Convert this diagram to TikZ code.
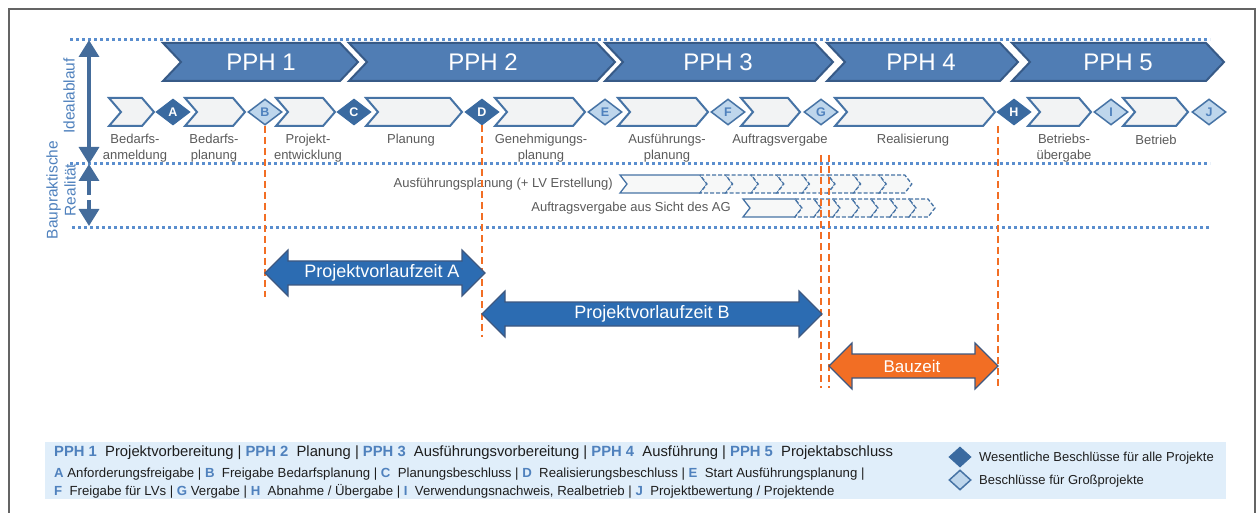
\documentclass[tikz,border=0pt]{standalone}
\usepackage{fontspec}
\setmainfont{Liberation Sans}
\usetikzlibrary{arrows.meta, positioning, shapes.geometric, calc}

\definecolor{pphfill}{RGB}{80,125,180}
\definecolor{pphline}{RGB}{55,90,135}
\definecolor{stepfill}{RGB}{242,243,244}
\definecolor{stepline}{RGB}{70,115,165}
\definecolor{diadark}{RGB}{58,106,160}
\definecolor{dialight}{RGB}{190,214,236}
\definecolor{dotblue}{RGB}{90,142,206}
\definecolor{axisblue}{RGB}{68,108,155}
\definecolor{sideblue}{RGB}{79,129,189}
\definecolor{labelgray}{RGB}{90,90,90}
\definecolor{cutorange}{RGB}{242,110,36}
\definecolor{spanblue}{RGB}{44,108,178}
\definecolor{spanline}{RGB}{62,88,128}
\definecolor{legfill}{RGB}{224,238,250}
\definecolor{legdark}{RGB}{30,30,30}
\definecolor{framegray}{RGB}{100,100,100}

% chevron: style, left x, tip x, mid y, half height, tip depth
\newcommand{\chevbox}[6]{\draw[#1] (#2,#4-#5) -- (#3-#6,#4-#5) -- (#3,#4) -- (#3-#6,#4+#5) -- (#2,#4+#5) -- (#2+#6,#4) -- cycle;}
% double block arrow between two named coordinates
\newcommand{\spanarrow}[3]{\draw[#3] (#1) -- ($(#1)+(23,-23)$) -- ($(#1)+(23,-12)$) -- ($(#2)+(-23,-12)$) -- ($(#2)+(-23,-23)$) -- (#2) -- ($(#2)+(-23,23)$) -- ($(#2)+(-23,12)$) -- ($(#1)+(23,12)$) -- ($(#1)+(23,23)$) -- cycle;}
\newcommand{\legkey}[1]{\textcolor{sideblue}{\bfseries #1}}

\begin{document}
\begin{tikzpicture}[x=1pt, y=-1pt,
    pph/.style={fill=pphfill, draw=pphline, line width=2pt},
    stepbox/.style={fill=stepfill, draw=stepline, line width=2pt},
    realbox/.style={fill=stepfill!60, draw=stepline, line width=1.3pt},
    ghostbox/.style={realbox, dash pattern=on 4pt off 2pt},
    pphtext/.style={text=white, font=\fontsize{24}{24}\selectfont},
    gate/.style={diamond, minimum width=34pt, minimum height=26pt, inner sep=0pt, font=\bfseries\fontsize{12.5}{12.5}\selectfont},
    maingate/.style={gate, fill=diadark, draw=diadark, line width=1pt, text=white},
    biggate/.style={gate, fill=dialight, draw=stepline, line width=1.5pt, text=sideblue},
    steplabel/.style={text=labelgray, align=center, font=\fontsize{13}{16}\selectfont},
    gridline/.style={dotblue, line width=3pt, dash pattern=on 3pt off 3pt},
    scaleaxis/.style={axisblue, line width=3.5pt, {Triangle[width=20pt,length=17pt]}-{Triangle[width=20pt,length=17pt]}},
    sidelabel/.style={text=sideblue, align=center, rotate=90, font=\fontsize{15.5}{18}\selectfont},
    cutline/.style={cutorange, line width=2.5pt, dash pattern=on 7pt off 4pt},
    spanbar/.style={fill=spanblue, draw=spanline, line width=1.2pt},
    spantext/.style={text=white, font=\fontsize{18}{18}\selectfont},
    legtext/.style={anchor=west, inner sep=0pt, text=legdark, font=\fontsize{13.2}{16}\selectfont}
  ]
  \useasboundingbox (0,0) rectangle (1259,513);
  \draw[framegray, line width=2pt] (9,9) rectangle (1255,540);

  % Ideal / reality bands
  \draw[gridline] (70,40) -- (1210,40);
  \draw[gridline] (70,164) -- (1210,164);
  \draw[gridline] (72,228) -- (1210,228);
  \coordinate (ideal-top) at (89,40);
  \coordinate (ideal-bot) at (89,164);
  \coordinate (real-top) at (89,164);
  \coordinate (real-bot) at (89,226);
  \draw[scaleaxis] (ideal-top) -- (ideal-bot);
  \draw[scaleaxis, dash pattern=on 15pt off 5pt] (real-top) -- (real-bot);
  \node[sidelabel] (ideal) at (69,96) {Idealablauf};
  \node[sidelabel] (real) at (61,190) {Baupraktische\\Realität};

  % Project phases
  \chevbox{pph}{163}{358}{62}{19}{18}
  \chevbox{pph}{349}{615}{62}{19}{18}
  \chevbox{pph}{605}{833}{62}{19}{18}
  \chevbox{pph}{827}{1018}{62}{19}{18}
  \chevbox{pph}{1012}{1224}{62}{19}{18}
  \node[pphtext] (pph1) at (261,62) {PPH 1};
  \node[pphtext] (pph2) at (483,62) {PPH 2};
  \node[pphtext] (pph3) at (718,62) {PPH 3};
  \node[pphtext] (pph4) at (921,62) {PPH 4};
  \node[pphtext] (pph5) at (1118,62) {PPH 5};

  % Steps
  \chevbox{stepbox}{109}{154}{112}{14}{12}
  \chevbox{stepbox}{185}{245}{112}{14}{12}
  \chevbox{stepbox}{276}{335}{112}{14}{12}
  \chevbox{stepbox}{366}{462}{112}{14}{12}
  \chevbox{stepbox}{495}{585}{112}{14}{12}
  \chevbox{stepbox}{618}{708}{112}{14}{12}
  \chevbox{stepbox}{741}{800}{112}{14}{12}
  \chevbox{stepbox}{835}{995}{112}{14}{12}
  \chevbox{stepbox}{1028}{1091}{112}{14}{12}
  \chevbox{stepbox}{1123}{1188}{112}{14}{12}
  \node[steplabel] (s1) at (135,148) {Bedarfs-\\anmeldung};
  \node[steplabel] (s2) at (214,148) {Bedarfs-\\planung};
  \node[steplabel] (s3) at (308,148) {Projekt-\\entwicklung};
  \node[steplabel] (s4) at (411,140) {Planung};
  \node[steplabel] (s5) at (541,148) {Genehmigungs-\\planung};
  \node[steplabel] (s6) at (667,148) {Ausführungs-\\planung};
  \node[steplabel] (s7) at (780,140) {Auftragsvergabe};
  \node[steplabel] (s8) at (913,140) {Realisierung};
  \node[steplabel] (s9) at (1064,148) {Betriebs-\\übergabe};
  \node[steplabel] (s10) at (1156,140) {Betrieb};

  % Decision gates
  \node[maingate] (A) at (173,112) {A};
  \node[biggate] (B) at (265,112) {B};
  \node[maingate] (C) at (354,112) {C};
  \node[maingate] (D) at (482,112) {D};
  \node[biggate] (E) at (605,112) {E};
  \node[biggate] (F) at (728,112) {F};
  \node[biggate] (G) at (821,112) {G};
  \node[maingate] (H) at (1014,112) {H};
  \node[biggate] (I) at (1111,112) {I};
  \node[biggate] (J) at (1209,112) {J};

  % Practice
  \node[steplabel, anchor=east, inner sep=0pt] (r1) at (613,184) {Ausführungsplanung (+ LV Erstellung)};
  \chevbox{realbox}{620}{707}{184}{9}{7}
  \foreach \k in {1,...,8}{
    \chevbox{ghostbox}{674.4+25.6*\k}{707+25.6*\k}{184}{9}{7}
  }
  \node[steplabel, anchor=east, inner sep=0pt] (r2) at (731,208) {Auftragsvergabe aus Sicht des AG};
  \chevbox{realbox}{743}{802}{208}{9}{7}
  \foreach \k in {1,...,7}{
    \chevbox{ghostbox}{776+19*\k}{802+19*\k}{208}{9}{7}
  }

  % Milestone lines
  \coordinate (cutB) at (265,297);
  \coordinate (cutD) at (482,337);
  \coordinate (cutG1top) at (821,155);
  \coordinate (cutG1) at (821,388);
  \coordinate (cutG2top) at (829,155);
  \coordinate (cutG2) at (829,388);
  \coordinate (cutHtop) at (998,126);
  \coordinate (cutH) at (998,388);
  \draw[cutline] (B.south) -- (cutB);
  \draw[cutline] (D.south) -- (cutD);
  \draw[cutline] (cutG1top) -- (cutG1);
  \draw[cutline] (cutG2top) -- (cutG2);
  \draw[cutline] (cutHtop) -- (cutH);

  % Lead times
  \coordinate (pvA-l) at (265,273);
  \coordinate (pvA-r) at (485,273);
  \coordinate (pvB-l) at (482,314);
  \coordinate (pvB-r) at (822,314);
  \coordinate (bau-l) at (829,366);
  \coordinate (bau-r) at (998,366);
  \spanarrow{pvA-l}{pvA-r}{spanbar}
  \spanarrow{pvB-l}{pvB-r}{spanbar}
  \spanarrow{bau-l}{bau-r}{spanbar, fill=cutorange}
  \node[spantext] (pvA) at (382,273) {Projektvorlaufzeit A};
  \node[spantext] (pvB) at (652,314) {Projektvorlaufzeit B};
  \node[spantext, font=\fontsize{17}{17}\selectfont] (bau) at (912,366) {Bauzeit};

  % Legend
  \fill[legfill] (45,442) rectangle (1226,499);
  \node[legtext, font=\fontsize{14.8}{17}\selectfont] (leg1) at (54,453) {\legkey{PPH 1}\ \ Projektvorbereitung | \legkey{PPH 2}\ \ Planung | \legkey{PPH 3}\ \ Ausführungsvorbereitung | \legkey{PPH 4}\ \ Ausführung | \legkey{PPH 5}\ \ Projektabschluss};
  \node[legtext] (leg2) at (54,474) {\legkey{A} Anforderungsfreigabe | \legkey{B}\ \ Freigabe Bedarfsplanung | \legkey{C}\ \ Planungsbeschluss | \legkey{D}\ \ Realisierungsbeschluss | \legkey{E}\ \ Start Ausführungsplanung |};
  \node[legtext] (leg3) at (54,491) {\legkey{F}\ \ Freigabe für LVs | \legkey{G} Vergabe | \legkey{H}\ \ Abnahme / Übergabe | \legkey{I}\ \ Verwendungsnachweis, Realbetrieb | \legkey{J}\ \ Projektbewertung / Projektende};
  \node[maingate, minimum width=22pt, minimum height=20pt] (keymain) at (960,457) {};
  \node[biggate, minimum width=22pt, minimum height=20pt] (keybig) at (960,480) {};
  \node[legtext, font=\fontsize{13}{16}\selectfont] (keymaintext) at (979,458) {Wesentliche Beschlüsse für alle Projekte};
  \node[legtext, font=\fontsize{13}{16}\selectfont] (keybigtext) at (979,481) {Beschlüsse für Großprojekte};
\end{tikzpicture}
\end{document}
